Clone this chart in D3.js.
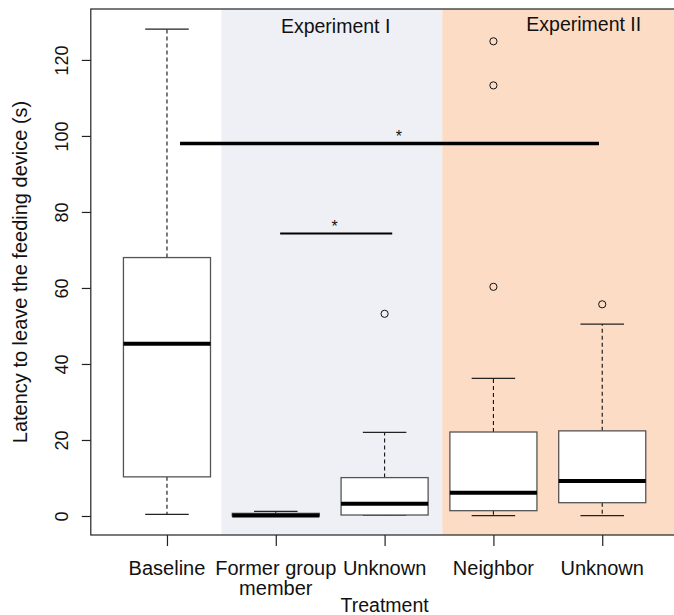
<!DOCTYPE html>
<html>
<head>
<meta charset="utf-8">
<script src="https://cdn.jsdelivr.net/npm/d3@7"></script>
<style>
  body { margin: 0; background: #fff; }
  svg { display: block; font-family: "Liberation Sans", Arial, Helvetica, sans-serif; }
</style>
</head>
<body>
<svg id="chart" width="674" height="615"></svg>
<script>
// ---- data ----
const categories = [["Baseline"], ["Former group", "member"], ["Unknown"], ["Neighbor"], ["Unknown"]];
const lowerWhisker = [0.44, 0.0, 0.2, 0.1, 0.1];
const q1Values     = [10.3, 0.0, 0.26, 1.4, 3.5];
const medianValues = [45.3, 0.1, 3.2, 6.1, 9.2];
const q3Values     = [68.0, 0.7, 10.1, 22.1, 22.4];
const upperWhisker = [128.1, 1.2, 22.0, 36.2, 50.5];
const outlierValues = [[], [], [53.2], [124.9, 113.3, 60.3], [55.7]];
const yTicks = [0, 20, 40, 60, 80, 100, 120];
const experimentNames = ["Experiment I", "Experiment II"];
const experimentSpans = [[1.5, 3.53], [3.53, 5.7]];
const experimentLabelX = [2.55, 4.83];
const sigLineX1 = [1.12, 2.04];
const sigLineX2 = [4.97, 3.07];
const sigLineY = [98.0, 74.3];
const sigStarX = [3.13, 2.54];

// ---- layout ----
const svg = d3.select("#chart");
const pLeft = 90.8, pRight = 678.4, pTop = 9, pBottom = 535;
const n = categories.length;
const x = d3.scaleLinear().domain([0.5 - 0.04 * n, n + 0.5 + 0.04 * n]).range([pLeft, pRight]);
const y = d3.scaleLinear().domain([-5, 133.4]).range([pBottom, pTop]);
const boxHalf = 0.4, capHalf = 0.2;

// backgrounds
const bgColors = ["#eff0f6", "#fddcc5"];
svg.selectAll("rect.bg").data(experimentSpans).enter().append("rect")
  .attr("class", "bg")
  .attr("x", d => x(d[0])).attr("width", d => x(d[1]) - x(d[0]))
  .attr("y", pTop).attr("height", pBottom - pTop)
  .attr("fill", (d, i) => bgColors[i]);

// experiment labels
const expBaseline = [33, 31];
svg.selectAll("text.exp").data(experimentNames).enter().append("text")
  .attr("class", "exp")
  .attr("x", (d, i) => x(experimentLabelX[i])).attr("y", (d, i) => expBaseline[i])
  .attr("text-anchor", "middle").attr("font-size", 19.5).attr("fill", "#111")
  .text(d => d);

// boxes
const g = svg.append("g");
categories.forEach((c, i) => {
  const p = i + 1;
  g.append("line").attr("x1", x(p)).attr("x2", x(p)).attr("y1", y(q3Values[i])).attr("y2", y(upperWhisker[i]))
    .attr("stroke", "#111").attr("stroke-width", 1.1).attr("stroke-dasharray", "4,3");
  g.append("line").attr("x1", x(p)).attr("x2", x(p)).attr("y1", y(q1Values[i])).attr("y2", y(lowerWhisker[i]))
    .attr("stroke", "#111").attr("stroke-width", 1.1).attr("stroke-dasharray", "4,3");
  [upperWhisker[i], lowerWhisker[i]].forEach(v => {
    g.append("line").attr("x1", x(p - capHalf)).attr("x2", x(p + capHalf)).attr("y1", y(v)).attr("y2", y(v))
      .attr("stroke", "#222").attr("stroke-width", 1.2);
  });
  g.append("rect").attr("x", x(p - boxHalf)).attr("width", x(p + boxHalf) - x(p - boxHalf))
    .attr("y", y(q3Values[i])).attr("height", Math.max(0.5, y(q1Values[i]) - y(q3Values[i])))
    .attr("fill", "#fff").attr("stroke", "#555").attr("stroke-width", 1.3);
  g.append("line").attr("x1", x(p - boxHalf)).attr("x2", x(p + boxHalf)).attr("y1", y(medianValues[i])).attr("y2", y(medianValues[i]))
    .attr("stroke", "#000").attr("stroke-width", 4);
  outlierValues[i].forEach(v => {
    g.append("circle").attr("cx", x(p)).attr("cy", y(v)).attr("r", 3.6)
      .attr("fill", "none").attr("stroke", "#111").attr("stroke-width", 1);
  });
});

// significance lines
const sigWidths = [3.4, 2];
sigLineY.forEach((v, i) => {
  svg.append("line").attr("x1", x(sigLineX1[i])).attr("x2", x(sigLineX2[i])).attr("y1", y(v)).attr("y2", y(v))
    .attr("stroke", "#000").attr("stroke-width", sigWidths[i]);
  svg.append("text").attr("x", x(sigStarX[i])).attr("y", y(v) - 2)
    .attr("text-anchor", "middle").attr("font-size", 16).attr("fill", "#111").text("*");
});

// frame
svg.append("rect").attr("x", pLeft).attr("y", pTop).attr("width", pRight - pLeft).attr("height", pBottom - pTop)
  .attr("fill", "none").attr("stroke", "#222").attr("stroke-width", 1.2);

// y axis
const yAxis = svg.append("g").attr("transform", `translate(${pLeft},0)`)
  .call(d3.axisLeft(y).tickValues(yTicks).tickSize(9).tickPadding(0));
yAxis.select(".domain").remove();
yAxis.selectAll(".tick line").attr("stroke", "#222").attr("stroke-width", 1.2);
yAxis.selectAll(".tick text")
  .attr("x", null).attr("dy", null)
  .attr("transform", "translate(-23,0) rotate(-90)")
  .attr("text-anchor", "middle").attr("font-size", 18).attr("fill", "#111")
  .attr("font-family", "Liberation Sans, Arial, sans-serif");

// x axis
const xAxis = svg.append("g").attr("transform", `translate(0,${pBottom})`)
  .call(d3.axisBottom(x).tickValues(d3.range(1, n + 1)).tickSize(11).tickFormat(""));
xAxis.select(".domain").remove();
xAxis.selectAll(".tick line").attr("stroke", "#222").attr("stroke-width", 1.2);
categories.forEach((lines, i) => {
  const t = svg.append("text").attr("x", x(i + 1)).attr("y", 575)
    .attr("text-anchor", "middle").attr("font-size", 20).attr("fill", "#111");
  lines.forEach((ln, k) => {
    t.append("tspan").attr("x", x(i + 1)).attr("dy", k === 0 ? 0 : 20).text(ln);
  });
});

// axis titles
svg.append("text").attr("x", (pLeft + pRight) / 2).attr("y", 612)
  .attr("text-anchor", "middle").attr("font-size", 19.5).attr("fill", "#111").text("Treatment");
svg.append("text").attr("transform", `translate(27,${(pTop + pBottom) / 2}) rotate(-90)`)
  .attr("text-anchor", "middle").attr("font-size", 20).attr("fill", "#111")
  .text("Latency to leave the feeding device (s)");
</script>
</body>
</html>
